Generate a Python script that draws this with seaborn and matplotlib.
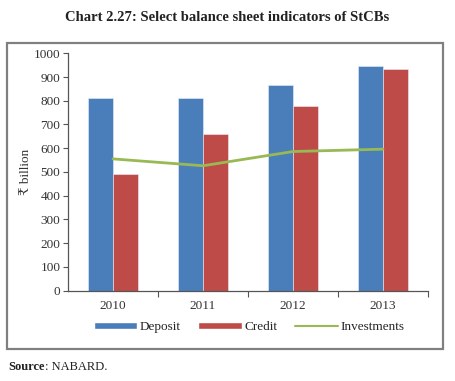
import numpy as np
import pandas as pd
import matplotlib
matplotlib.use("Agg")
import matplotlib.pyplot as plt
from matplotlib.patches import Rectangle, Patch
from matplotlib.lines import Line2D
import seaborn as sns

## Chart data
years = ["2010", "2011", "2012", "2013"]
deposit = [812, 810, 866, 946]
credit = [492, 661, 778, 933]
investments = [555, 526, 586, 596]
y_ticks = list(range(0, 1001, 100))

BLUE = "#4a7ebb"
RED = "#be4b48"
GREEN = "#98b954"

sns.set_theme(style="white")
plt.rcParams["font.family"] = ["Liberation Serif", "DejaVu Serif", "DejaVu Sans"]

# long-form table for the grouped bars
bars_df = pd.DataFrame({
    "year": years * 2,
    "value": deposit + credit,
    "series": ["Deposit"] * len(years) + ["Credit"] * len(years),
})

fig = plt.figure(figsize=(4.55, 3.81), dpi=100)
ax = fig.add_axes([0.1495, 0.2375, 0.7912, 0.6225])

sns.barplot(data=bars_df, x="year", y="value", hue="series",
            palette=[BLUE, RED], saturation=1, width=0.55, gap=0, ax=ax,
            edgecolor="#e8eef8", linewidth=0.4, legend=False)
sns.lineplot(x=np.arange(len(years)), y=investments, color=GREEN,
             linewidth=2, ax=ax, legend=False)

ax.set_xlim(-0.5, 3.5)
ax.set_ylim(0, 1000)
ax.set_yticks(y_ticks)
ax.set_xlabel("")
ax.set_ylabel("₹ billion", fontsize=9.5, labelpad=1, color="#333333")

# spines / ticks like the Excel original
for side in ["top", "right"]:
    ax.spines[side].set_visible(False)
for side in ["left", "bottom"]:
    ax.spines[side].set_color("#555555")
    ax.spines[side].set_linewidth(0.9)
ax.set_xticks(np.arange(len(years)))
ax.set_xticklabels(years)
ax.set_xticks([0.5, 1.5, 2.5, 3.5], minor=True)
ax.tick_params(axis="x", which="major", length=0, pad=7, labelsize=9.5, colors="#333333")
ax.tick_params(axis="x", which="minor", length=4, width=0.8, color="#555555", direction="out", bottom=True)
ax.tick_params(axis="y", length=3.5, width=0.8, color="#555555", direction="out", left=True,
               labelsize=9.5, labelcolor="#333333", pad=2)

# legend below the plot
handles = [Patch(facecolor=BLUE, label="Deposit"),
           Patch(facecolor=RED, label="Credit"),
           Line2D([0], [0], color=GREEN, lw=1.5, label="Investments")]
fig.legend(handles=handles, loc="center", bbox_to_anchor=(0.548, 0.142), ncol=3,
           frameon=False, fontsize=9.5, handlelength=3.3, handleheight=0.45,
           handletextpad=0.2, columnspacing=1.3)

# outer frame, title and source
fig.add_artist(Rectangle((0.016, 0.085), 0.958, 0.802, transform=fig.transFigure,
                         fill=False, edgecolor="#808080", linewidth=1.6))
fig.text(0.5, 0.955, "Chart 2.27: Select balance sheet indicators of StCBs",
         ha="center", va="center", fontsize=10.5, fontweight="bold", color="#222222")
src = fig.text(0.018, 0.038, "Source", ha="left", va="center", fontsize=9,
               fontweight="bold", color="#222222")
ax.annotate(": NABARD.", xy=(1, 0.5), xycoords=src, ha="left", va="center",
            fontsize=9, color="#222222", annotation_clip=False)

fig.savefig("out.png", dpi=100)
